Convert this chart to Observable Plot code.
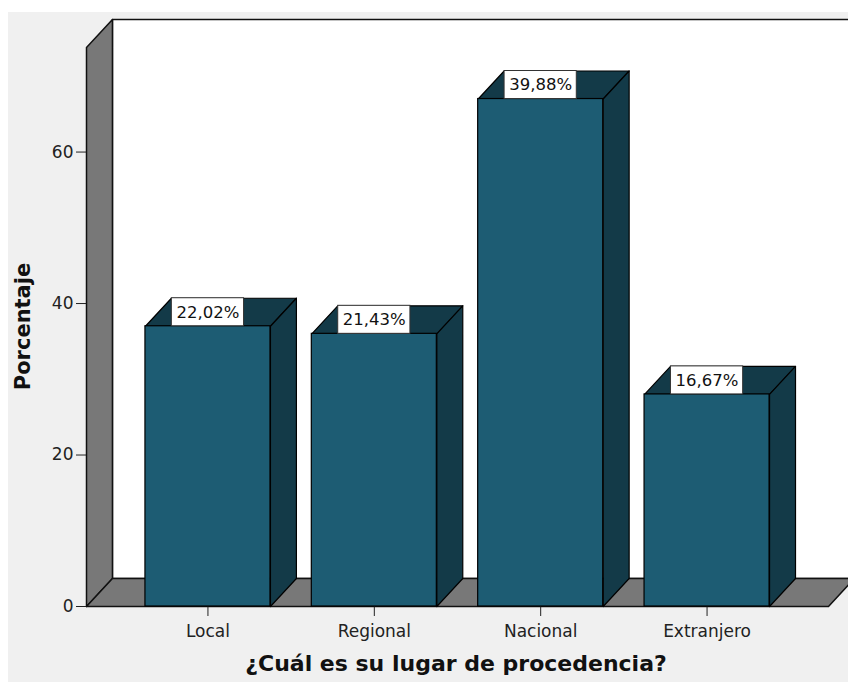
<!DOCTYPE html>
<html><head><meta charset="utf-8">
<script src="https://cdn.jsdelivr.net/npm/d3@7"></script>
<script src="https://cdn.jsdelivr.net/npm/@observablehq/plot@0.6"></script>
<style>
html,body{margin:0;padding:0;background:#fff;overflow:hidden;width:848px;height:682px;}
#chart{position:absolute;left:8px;top:12px;width:840px;height:670px;overflow:hidden;}
#chart svg{overflow:hidden;}
</style></head><body><div id="chart"></div>
<script>
const categories = ["Local", "Regional", "Nacional", "Extranjero"];
const counts = [37, 36, 67, 28];
const percentLabels = ["22,02%", "21,43%", "39,88%", "16,67%"];
const yTicks = [0, 20, 40, 60];
const xTitle = "¿Cuál es su lugar de procedencia?";
const yTitle = "Porcentaje";

// 3D geometry (data units)
const X0 = -0.73, X1 = 3.73;
const YTOP = 73.8;
const DX = 0.156, DY = 3.7;
const HW = 0.3757, BW = 0.217;

const bars = categories.map((c, i) => ({i, c, v: counts[i], label: percentLabels[i]}));
const poly = (id, pts) => pts.map(([x, y]) => ({id, x, y}));
const tops = bars.flatMap(b => poly(b.c, [[b.i - HW, b.v], [b.i + HW, b.v], [b.i + HW + DX, b.v + DY], [b.i - HW + DX, b.v + DY]]));
const sides = bars.flatMap(b => poly(b.c, [[b.i + HW, 0], [b.i + HW, b.v], [b.i + HW + DX, b.v + DY], [b.i + HW + DX, DY]]));
const leftWall = poly("lw", [[X0, 0], [X0, YTOP], [X0 + DX, YTOP + DY], [X0 + DX, DY]]);
const floorPoly = poly("fl", [[X0, 0], [X1, 0], [X1 + DX, DY], [X0 + DX, DY]]);
const backWall = poly("bw", [[X0 + DX, DY], [X0 + DX, YTOP + DY], [X1 + DX + 0.5, YTOP + DY], [X1 + DX + 0.5, DY]]);

const FRONT = "#1d5c73", DARK = "#133a48", WALL = "#787878";

const chart = Plot.plot({
  width: 840, height: 670,
  marginLeft: 78, marginRight: 20, marginTop: 7, marginBottom: 76,
  style: {background: "#f0f0f0", fontFamily: "DejaVu Sans", fontSize: "17px", color: "#222"},
  x: {type: "linear", domain: [X0, X1], range: [78, 820]},
  y: {domain: [0, YTOP + DY], range: [594, 7]},
  marks: [
    Plot.line(backWall, {x: "x", y: "y", fill: "white", stroke: "#111", strokeWidth: 1.5, curve: "linear-closed"}),
    Plot.line(leftWall, {x: "x", y: "y", fill: WALL, stroke: "#111", strokeWidth: 1.5, curve: "linear-closed"}),
    Plot.line(floorPoly, {x: "x", y: "y", fill: WALL, stroke: "#111", strokeWidth: 1.5, curve: "linear-closed"}),
    Plot.axisY({ticks: yTicks, tickSize: 10, tickPadding: 3, label: null, fontSize: 17, stroke: "#222"}),
    Plot.axisX({ticks: [0, 1, 2, 3], tickFormat: i => categories[i], tickSize: 10, tickPadding: 8, label: null, fontSize: 17, stroke: "#222"}),
    Plot.line(tops, {x: "x", y: "y", z: "id", fill: DARK, stroke: "#000", strokeWidth: 1.2, curve: "linear-closed"}),
    Plot.line(sides, {x: "x", y: "y", z: "id", fill: DARK, stroke: "#000", strokeWidth: 1.2, curve: "linear-closed"}),
    Plot.rect(bars, {x1: d => d.i - HW, x2: d => d.i + HW, y1: 0, y2: "v", fill: FRONT, stroke: "#000", strokeWidth: 1.2}),
    Plot.rect(bars, {x1: d => d.i - BW, x2: d => d.i + BW, y1: "v", y2: d => d.v + DY, fill: "white", stroke: "#333", strokeWidth: 1}),
    Plot.text(bars, {x: "i", y: d => d.v + DY / 2, text: "label", fontSize: 16.5, fill: "#111"}),
    Plot.text([xTitle], {frameAnchor: "bottom", dx: -1.5, dy: 64, fontWeight: "bold", fontSize: 22, fill: "#111"}),
    Plot.text([yTitle], {frameAnchor: "left", textAnchor: "middle", rotate: -90, dx: -63, dy: 13.5, fontWeight: "bold", fontSize: 21, fill: "#111"})
  ]
});
document.getElementById("chart").appendChild(chart);
</script>
</body></html>
